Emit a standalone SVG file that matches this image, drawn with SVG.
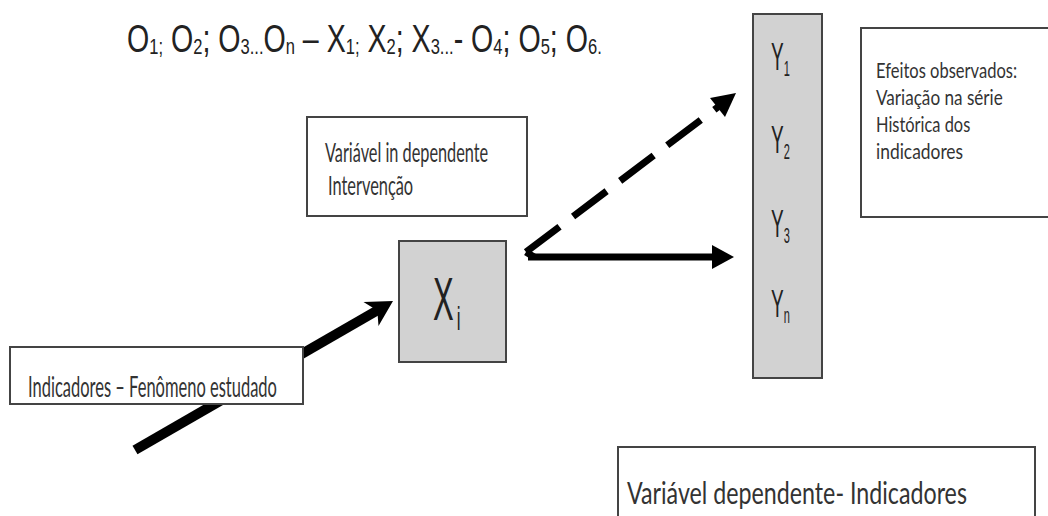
<svg xmlns="http://www.w3.org/2000/svg" width="1048" height="516" viewBox="0 0 1048 516">
<style>
.box{fill:#ffffff;stroke:#444444;stroke-width:2}
.gbox{fill:#d2d2d2;stroke:#444444;stroke-width:2}
.lbl{font-family:Lato,"Open Sans","Liberation Sans",sans-serif;fill:#333333}
.ttl{font-family:"Liberation Sans",Arial,sans-serif;fill:#222222;font-size:38px}
.s{font-size:22px}
.sym{font-family:"Liberation Sans",Arial,sans-serif;fill:#222222}
.conn{stroke:#000000;fill:none}
.head{fill:#000000}
</style>
<rect width="1048" height="516" fill="#ffffff"/>
<g id="title">
<text class="ttl" transform="translate(127,52) scale(0.75,1)" textLength="633" lengthAdjust="spacingAndGlyphs">O<tspan class="s" dy="2">1;</tspan><tspan dy="-2"> O</tspan><tspan class="s" dy="2">2</tspan><tspan dy="-2">; O</tspan><tspan class="s" dy="2">3...</tspan><tspan dy="-2">O</tspan><tspan class="s" dy="2">n</tspan><tspan dy="-2"> – X</tspan><tspan class="s" dy="2">1;</tspan><tspan dy="-2"> X</tspan><tspan class="s" dy="2">2</tspan><tspan dy="-2">; X</tspan><tspan class="s" dy="2">3...</tspan><tspan dy="-2">- O</tspan><tspan class="s" dy="2">4</tspan><tspan dy="-2">; O</tspan><tspan class="s" dy="2">5</tspan><tspan dy="-2">; O</tspan><tspan class="s" dy="2">6.</tspan></text>
</g>
<g id="connectors">
<line class="conn" x1="135" y1="450" x2="378" y2="310" stroke-width="10"/>
<polygon class="head" points="393,301 378.5,326 377.3,310.5 363.5,302"/>
<line class="conn" x1="526" y1="252" x2="718" y2="107" stroke-width="7" stroke-dasharray="42 17"/>
<polygon class="head" points="736,93 725,117 710,98"/>
<line class="conn" x1="526" y1="252" x2="534" y2="257" stroke-width="7"/>
<line class="conn" x1="528" y1="257" x2="714" y2="257" stroke-width="7"/>
<polygon class="head" points="734,257 712,245 712,269"/>
</g>
<g id="node-intervencao">
<rect class="box" x="307" y="117" width="220" height="99"/>
<text class="lbl" transform="translate(325,162) scale(0.65,1)" font-size="26" textLength="251" lengthAdjust="spacingAndGlyphs">Variável in dependente</text>
<text class="lbl" transform="translate(328,195) scale(0.65,1)" font-size="26" textLength="131" lengthAdjust="spacingAndGlyphs">Intervenção</text>
</g>
<g id="node-xi">
<rect class="gbox" x="399" y="241" width="107" height="121"/>
<text class="sym" transform="translate(433,320) scale(0.5,1)" font-size="62">X<tspan font-size="34" dx="6" dy="10">i</tspan></text>
</g>
<g id="node-indicadores">
<rect class="box" x="10" y="347" width="293" height="57"/>
<text class="lbl" transform="translate(28,397) scale(0.65,1)" font-size="28" textLength="383" lengthAdjust="spacingAndGlyphs">Indicadores – Fenômeno estudado</text>
</g>
<g id="node-y">
<rect class="gbox" x="753" y="14" width="69" height="364"/>
<text class="sym" transform="translate(771,70) scale(0.5,1)" font-size="38">Y<tspan font-size="22" dy="6">1</tspan></text>
<text class="sym" transform="translate(771,153) scale(0.5,1)" font-size="38">Y<tspan font-size="22" dy="6">2</tspan></text>
<text class="sym" transform="translate(771,237) scale(0.5,1)" font-size="38">Y<tspan font-size="22" dy="6">3</tspan></text>
<text class="sym" transform="translate(771,317) scale(0.5,1)" font-size="38">Y<tspan font-size="22" dy="6">n</tspan></text>
</g>
<g id="node-efeitos">
<path class="box" d="M1048,28 H861 V217 H1048"/>
<text class="lbl" transform="translate(876,78) scale(0.65,1)" font-size="22" textLength="217" lengthAdjust="spacingAndGlyphs">Efeitos observados:</text>
<text class="lbl" transform="translate(876,105) scale(0.65,1)" font-size="22" textLength="195" lengthAdjust="spacingAndGlyphs">Variação na série</text>
<text class="lbl" transform="translate(876,132) scale(0.65,1)" font-size="22" textLength="145" lengthAdjust="spacingAndGlyphs">Histórica dos</text>
<text class="lbl" transform="translate(876,159) scale(0.65,1)" font-size="22" textLength="134" lengthAdjust="spacingAndGlyphs">indicadores</text>
</g>
<g id="node-dependente">
<path class="box" d="M618,516 V447 H1035 V516"/>
<text class="lbl" transform="translate(627,504) scale(0.65,1)" font-size="31" textLength="523" lengthAdjust="spacingAndGlyphs">Variável dependente- Indicadores</text>
</g>
</svg>
